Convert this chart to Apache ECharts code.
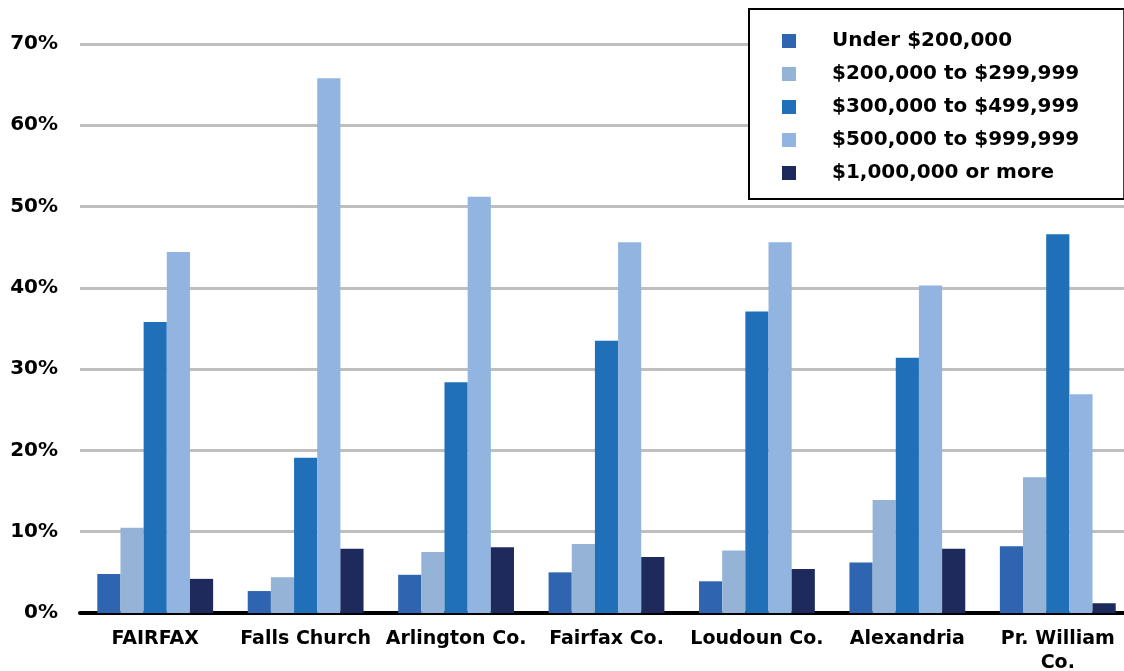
<!DOCTYPE html>
<html><head><meta charset="utf-8">
<script src="https://cdn.jsdelivr.net/npm/echarts@6/dist/echarts.min.js"></script>
<style>html,body{margin:0;padding:0;background:#fff;overflow:hidden}#c{width:1124px;height:671px}</style>
</head><body><div id="c"></div>
<script>
const categories = ['FAIRFAX', 'Falls Church', 'Arlington Co.', 'Fairfax Co.', 'Loudoun Co.', 'Alexandria', 'Pr. William\nCo.'];
const seriesNames = ['Under $200,000', '$200,000 to $299,999', '$300,000 to $499,999', '$500,000 to $999,999', '$1,000,000 or more'];
const under200k   = [4.8, 2.7, 4.7, 5.0, 3.9, 6.2, 8.2];
const from200k    = [10.5, 4.4, 7.5, 8.5, 7.7, 13.9, 16.7];
const from300k    = [35.8, 19.1, 28.4, 33.5, 37.1, 31.4, 46.6];
const from500k    = [44.4, 65.8, 51.2, 45.6, 45.6, 40.3, 26.9];
const over1m      = [4.2, 7.9, 8.1, 6.9, 5.4, 7.9, 1.2];
const yTicks = [0, 10, 20, 30, 40, 50, 60, 70];
const colors = ['#2E64B0', '#95B3D7', '#1F70B8', '#92B4E0', '#1F2A5C'];
const values = [under200k, from200k, from300k, from500k, over1m];
const FONT = 'DejaVu Sans';

const chart = echarts.init(document.getElementById('c'), null, {renderer: 'canvas'});
chart.setOption({
  animation: false,
  backgroundColor: '#fff',
  grid: {left: 80, top: 44, width: 1053, height: 569, containLabel: false, outerBoundsMode: 'none'},
  legend: {
    orient: 'vertical', left: 749, top: 9,
    padding: [22, 45, 16, 33],
    borderColor: '#000', borderWidth: 2, backgroundColor: '#fff',
    itemWidth: 14, itemHeight: 14, itemGap: 13, icon: 'rect',
    textStyle: {fontFamily: FONT, fontWeight: 'bold', fontSize: 20, color: '#000', lineHeight: 20, padding: [0, 0, 0, 31]},
    data: seriesNames
  },
  xAxis: {
    type: 'category', data: categories,
    axisLine: {lineStyle: {color: '#000', width: 4}},
    axisTick: {show: false},
    axisLabel: {fontFamily: FONT, fontWeight: 'bold', fontSize: 19, color: '#000', margin: 14, lineHeight: 24, interval: 0}
  },
  yAxis: {
    type: 'value', min: yTicks[0], max: yTicks[yTicks.length - 1], interval: 10,
    axisLine: {show: false}, axisTick: {show: false},
    axisLabel: {fontFamily: FONT, fontWeight: 'bold', fontSize: 20, color: '#000', margin: 22, formatter: v => v + '%'},
    splitLine: {lineStyle: {color: '#BFBFBF', width: 3}}
  },
  series: seriesNames.map((n, i) => ({
    name: n, type: 'bar', data: values[i],
    barGap: '0%', barCategoryGap: '23%',
    itemStyle: {color: colors[i]}
  }))
});
</script></body></html>
